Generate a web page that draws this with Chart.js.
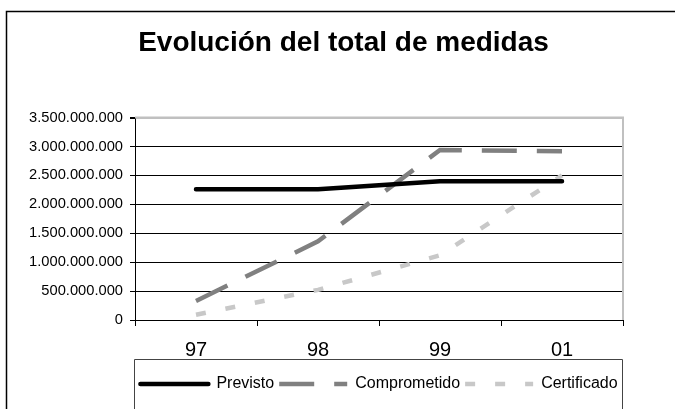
<!DOCTYPE html>
<html>
<head>
<meta charset="utf-8">
<script src="https://cdn.jsdelivr.net/npm/chart.js@4/dist/chart.umd.min.js"></script>
<style>
html, body { margin: 0; padding: 0; background: #fff; overflow: hidden; }
</style>
</head>
<body>
<canvas id="chart" width="675" height="409"></canvas>
<script>
const years = ['97', '98', '99', '01'];
const previsto = [2260000000, 2260000000, 2400000000, 2400000000];
const comprometido = [330000000, 1360000000, 2940000000, 2920000000];
const certificado = [90000000, 520000000, 1120000000, 2500000000];
const yTicks = [0, 500000000, 1000000000, 1500000000, 2000000000, 2500000000, 3000000000, 3500000000];

const FONT = "'Liberation Sans', Arial, sans-serif";

function withDots(v) {
    return String(v).replace(/\B(?=(\d{3})+(?!\d))/g, '.');
}

// frames that Excel draws round the chart, the plot area and the legend
const frames = {
    id: 'frames',
    afterLayout(chart) {
        // the Excel chart frame is wider than the window, so centre the title on it
        chart.titleBlock.left = 12;
        chart.titleBlock.right = chart.width;
    },
    beforeDatasetsDraw(chart) {
        const ctx = chart.ctx;
        const a = chart.chartArea;
        ctx.save();
        ctx.strokeStyle = '#c0c0c0';
        ctx.lineWidth = 2;
        ctx.beginPath();
        ctx.moveTo(a.left, a.top);
        ctx.lineTo(a.right, a.top);
        ctx.lineTo(a.right, a.bottom);
        ctx.stroke();
        ctx.restore();
    },
    afterDraw(chart) {
        const ctx = chart.ctx;
        ctx.save();
        ctx.strokeStyle = '#000';
        ctx.lineWidth = 1.5;
        ctx.beginPath();
        ctx.moveTo(6.5, chart.height + 2);
        ctx.lineTo(6.5, 11.5);
        ctx.lineTo(chart.width + 2, 11.5);
        ctx.stroke();

        const hits = chart.legend.legendHitBoxes;
        if (hits && hits.length) {
            const first = hits[0];
            const last = hits[hits.length - 1];
            const left = Math.round(first.left) - 5.5;
            const right = Math.round(last.left + last.width) + 4.5;
            const top = Math.round(first.top) - 16.5;
            ctx.strokeStyle = '#444';
            ctx.lineWidth = 1;
            ctx.beginPath();
            ctx.moveTo(left, chart.height + 2);
            ctx.lineTo(left, top);
            ctx.lineTo(right, top);
            ctx.lineTo(right, chart.height + 2);
            ctx.stroke();
        }
        ctx.restore();
    }
};

const chart = new Chart(document.getElementById('chart').getContext('2d'), {
    type: 'line',
    data: {
        labels: years,
        datasets: [{
            label: 'Previsto',
            data: previsto,
            borderColor: '#000',
            borderWidth: 4.5,
            borderCapStyle: 'round',
            borderJoinStyle: 'round'
        }, {
            label: 'Comprometido',
            data: comprometido,
            borderColor: '#808080',
            borderWidth: 4.5,
            borderDash: [35, 20]
        }, {
            label: 'Certificado',
            data: certificado,
            borderColor: '#c8c8c8',
            borderWidth: 4.5,
            borderDash: [10, 20]
        }]
    },
    options: {
        responsive: false,
        animation: false,
        events: [],
        layout: {
            padding: { left: 0, right: 52, top: 0, bottom: 7 }
        },
        elements: {
            point: { radius: 0 },
            line: { tension: 0, fill: false }
        },
        scales: {
            x: {
                type: 'category',
                offset: true,
                grid: {
                    offset: true,
                    drawOnChartArea: false,
                    drawTicks: true,
                    tickLength: 6,
                    color: '#000'
                },
                border: { color: '#000', width: 1 },
                ticks: {
                    color: '#000',
                    padding: 12,
                    maxRotation: 0,
                    font: { family: FONT, size: 20 }
                },
                afterFit(scale) { scale.height = 51; }
            },
            y: {
                min: 0,
                max: 3500000000,
                afterBuildTicks(scale) {
                    scale.ticks = yTicks.map(v => ({ value: v }));
                },
                grid: {
                    color: ctx => (ctx.tick && ctx.tick.value === 3500000000) ? '#c0c0c0' : '#000',
                    lineWidth: ctx => (ctx.tick && ctx.tick.value === 3500000000) ? 2 : 1,
                    tickLength: 5,
                    tickColor: '#000'
                },
                border: { color: '#000', width: 1 },
                ticks: {
                    color: '#000',
                    padding: 7,
                    font: { family: FONT, size: 14.7 },
                    callback: v => withDots(v)
                },
                afterFit(scale) { scale.width = 135; }
            }
        },
        plugins: {
            title: {
                display: true,
                text: 'Evolución del total de medidas',
                color: '#000',
                font: { family: FONT, size: 28, weight: 'bold', lineHeight: 1.2 },
                padding: { top: 26, bottom: 58 }
            },
            legend: {
                display: true,
                position: 'bottom',
                fullSize: false,
                labels: {
                    usePointStyle: true,
                    pointStyle: 'line',
                    pointStyleWidth: 68,
                    boxHeight: 16,
                    padding: 5,
                    color: '#000',
                    font: { family: FONT, size: 16 },
                    generateLabels(chart) {
                        const items = Chart.defaults.plugins.legend.labels.generateLabels(chart);
                        items.forEach(item => {
                            const ds = chart.data.datasets[item.datasetIndex];
                            item.lineDash = ds.borderDash || [];
                            item.lineWidth = ds.borderWidth;
                            item.lineCap = ds.borderCapStyle || 'butt';
                            item.strokeStyle = ds.borderColor;
                        });
                        return items;
                    }
                }
            },
            tooltip: { enabled: false }
        }
    },
    plugins: [frames]
});
</script>
</body>
</html>
